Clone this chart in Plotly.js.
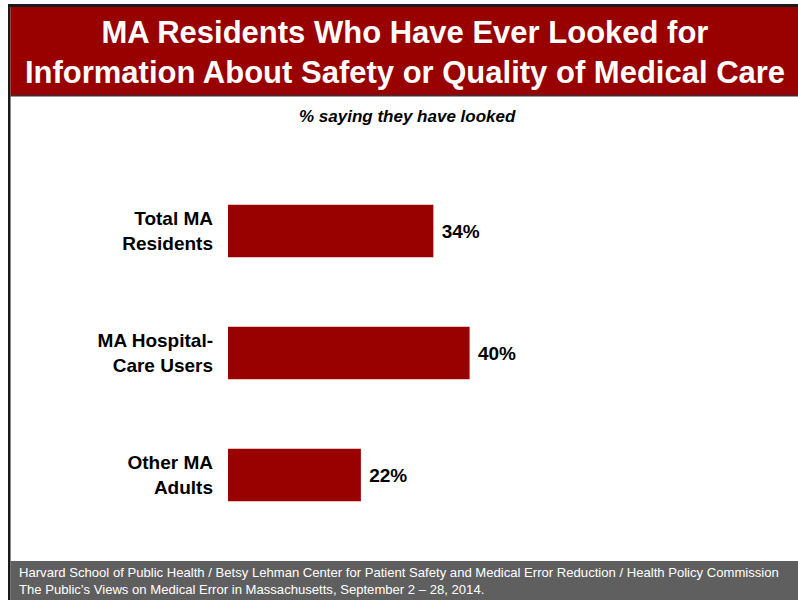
<!DOCTYPE html>
<html>
<head>
<meta charset="utf-8">
<script src="https://cdn.plot.ly/plotly-3.0.1.min.js"></script>
<style>
  html, body { margin: 0; padding: 0; background: #ffffff; }
  #chart { width: 798px; height: 600px; }
</style>
</head>
<body>
<div id="chart"></div>
<script>
// ---- Data ----
const categories = ["Total MA<br>Residents", "MA Hospital-<br>Care Users", "Other MA<br>Adults"];
const values = [34, 40, 22];
const chartTitle = "MA Residents Who Have Ever Looked for<br>Information About Safety or Quality of Medical Care";
const subtitle = "% saying they have looked";
const footerLines = [
  "Harvard School of Public Health / Betsy Lehman Center for Patient Safety and Medical Error Reduction / Health Policy Commission",
  "The Public\u2019s Views on Medical Error in Massachusetts, September 2 \u2013 28, 2014."
];

// ---- Layout geometry ----
const W = 798, H = 600;
const mL = 228, mR = 268, mT = 170, mB = 64;
const plotW = W - mL - mR, plotH = H - mT - mB;
const px = v => (v - mL) / plotW;          // pixel x -> paper x
const py = v => (H - mB - v) / plotH;      // pixel y -> paper y
const FONT = "Liberation Sans, Arial, Helvetica, sans-serif";

function rect(x0, y0, x1, y1, color) {
  return { type: "rect", xref: "paper", yref: "paper", layer: "below",
           x0: px(x0), x1: px(x1), y0: py(y1), y1: py(y0),
           line: { width: 0 }, fillcolor: color };
}

const trace = {
  type: "bar",
  orientation: "h",
  x: values,
  y: categories,
  marker: { color: "#990000", line: { width: 0 } },
  width: 0.43,
  text: values.map(v => "\u00a0" + v + "%"),
  textposition: "outside",
  cliponaxis: false,
  textfont: { family: FONT, size: 19, color: "#000000", weight: "bold" },
  hoverinfo: "skip"
};

const layout = {
  width: W, height: H,
  margin: { l: mL, r: mR, t: mT, b: mB, pad: 0 },
  paper_bgcolor: "#ffffff",
  plot_bgcolor: "rgba(0,0,0,0)",
  showlegend: false,
  title: {
    text: chartTitle,
    font: { family: FONT, size: 31, color: "#ffffff", weight: "bold" },
    xref: "container", yref: "container",
    x: 405 / W, xanchor: "center",
    y: 1 - 43 / H, yanchor: "middle"
  },
  xaxis: { range: [0, 50], visible: false, fixedrange: true },
  yaxis: {
    autorange: "reversed",
    showgrid: false, zeroline: false, showline: false,
    ticks: "", ticklabelstandoff: 14,
    tickfont: { family: FONT, size: 19, color: "#000000", weight: "bold" },
    fixedrange: true
  },
  shapes: [
    rect(8, 4, W, 7, "#1a1a1a"),          // top border
    rect(8, 4, 10.5, H, "#1a1a1a"),       // left border
    rect(10.5, 7, W, 95, "#990000"),      // title banner
    rect(10.5, 95, W, 96.5, "#333333"),   // banner underline
    rect(10.5, 561, W, H, "#5f5f5f")      // footer band
  ],
  annotations: [
    {
      text: subtitle, showarrow: false,
      xref: "paper", yref: "paper", x: px(407), y: py(117),
      xanchor: "center", yanchor: "middle",
      font: { family: FONT, size: 17, color: "#000000", weight: "bold", style: "italic" }
    },
    {
      text: footerLines.join("<br>"), showarrow: false, align: "left",
      xref: "paper", yref: "paper", x: px(17), y: py(581),
      xanchor: "left", yanchor: "middle",
      font: { family: FONT, size: 13.1, color: "#ffffff" }
    }
  ]
};

Plotly.newPlot("chart", [trace], layout, { displayModeBar: false, staticPlot: true });
</script>
</body>
</html>
